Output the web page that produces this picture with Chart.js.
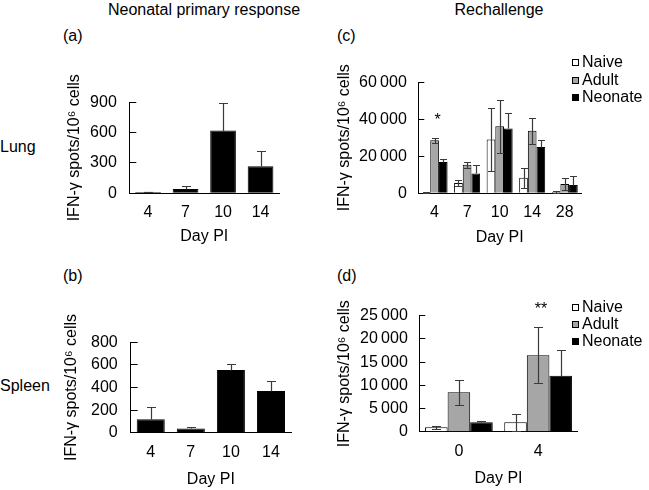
<!DOCTYPE html>
<html><head><meta charset="utf-8">
<script src="https://cdn.jsdelivr.net/npm/chart.js@4.4.1/dist/chart.umd.min.js"></script>
<style>
html,body{margin:0;padding:0;background:#fff;}
#page{position:relative;width:649px;height:490px;overflow:hidden;font-family:'Liberation Sans',Arial,Helvetica,sans-serif;font-size:16px;color:#000;}
canvas{position:absolute;}
.t{position:absolute;white-space:nowrap;line-height:16px;}
.sw{position:absolute;width:7px;height:7px;box-sizing:border-box;border:1px solid #000;}
</style></head><body>
<div id="page">
  <div class="t" style="left:204px;top:1.5px;transform:translateX(-50%);">Neonatal primary response</div>
  <div class="t" style="left:499px;top:1.5px;transform:translateX(-50%);">Rechallenge</div>
  <div class="t" style="left:63px;top:28px;">(a)</div>
  <div class="t" style="left:337px;top:28px;">(c)</div>
  <div class="t" style="left:63px;top:268px;">(b)</div>
  <div class="t" style="left:337px;top:268px;">(d)</div>
  <div class="t" style="left:0px;top:138.5px;">Lung</div>
  <div class="t" style="left:0px;top:378px;">Spleen</div>
  <canvas id="chartA" width="240" height="190" style="left:50px;top:60px;"></canvas>
  <canvas id="chartB" width="250" height="190" style="left:50px;top:300px;"></canvas>
  <canvas id="chartC" width="260" height="195" style="left:330px;top:55px;"></canvas>
  <canvas id="chartD" width="260" height="205" style="left:330px;top:285px;"></canvas>
  <div id="legendC"></div>
  <div id="legendD"></div>
</div>
<script>
// ---------- data ----------
const primaryDays = ['4', '7', '10', '14'];
const lungPrimary = [12, 43, 620, 268];
const lungPrimaryErr = [4, 33, 275, 150];
const lungPrimaryTicks = [0, 300, 600, 900];

const spleenPrimary = [118, 38, 555, 369];
const spleenPrimaryErr = [112, 15, 50, 91];
const spleenPrimaryTicks = [0, 200, 400, 600, 800];

const seriesNames = ['Naive', 'Adult', 'Neonate'];

const lungRechallengeDays = ['4', '7', '10', '14', '28'];
const lungNaive = [300, 5530, 29000, 8380, 670];
const lungNaiveErr = [200, 1850, 16900, 5360, 830];
const lungAdult = [28660, 15420, 36200, 33690, 5030];
const lungAdultErr = [1340, 1700, 14300, 6870, 3000];
const lungNeonate = [16930, 10730, 35030, 24970, 4525];
const lungNeonateErr = [1840, 4700, 8200, 3690, 4700];
const lungRechallengeTicks = [0, 20000, 40000, 60000];
const lungSignificance = ['*', '', '', '', ''];

const spleenRechallengeDays = ['0', '4'];
const spleenNaive = [934, 2010];
const spleenNaiveErr = [360, 1850];
const spleenAdult = [8477, 16450];
const spleenAdultErr = [2620, 6050];
const spleenNeonate = [2010, 12070];
const spleenNeonateErr = [360, 5600];
const spleenRechallengeTicks = [0, 5000, 10000, 15000, 20000, 25000];
const spleenSignificance = ['', '**'];

// ---------- styles ----------
const FAMILY = "'Liberation Sans', Arial, Helvetica, sans-serif";
const FONT = {family: FAMILY, size: 16, lineHeight: 1.2};
const seriesColors = ['#ffffff', '#a6a6a6', '#000000'];
const ERR_COLOR = '#3a3a3a';

function fmt(v) {
  return v >= 1000 ? String(v).replace(/\B(?=(\d{3})+(?!\d))/g, '\u2009') : String(v);
}

const errorBars = {
  id: 'errorBars',
  afterDatasetsDraw(chart, args, opts) {
    const ctx = chart.ctx, y = chart.scales.y;
    ctx.save();
    ctx.strokeStyle = ERR_COLOR;
    ctx.lineWidth = 1.2;
    chart.data.datasets.forEach((ds, i) => {
      const meta = chart.getDatasetMeta(i);
      meta.data.forEach((bar, j) => {
        const v = ds.data[j];
        const e = ds.errors ? ds.errors[j] : 0;
        const x = Math.round(bar.x) + 0.5;
        const yt = Math.round(y.getPixelForValue(v + e)) + 0.5;
        if (e) {
          const yb = ds.lowerErrors ? Math.round(y.getPixelForValue(Math.max(0, v - e))) + 0.5
                                    : Math.round(y.getPixelForValue(v)) + 0.5;
          const h = opts.cap / 2;
          ctx.beginPath();
          ctx.moveTo(x, yb); ctx.lineTo(x, yt);
          ctx.moveTo(x - h, yt); ctx.lineTo(x + h, yt);
          if (ds.lowerErrors) { ctx.moveTo(x - h, yb); ctx.lineTo(x + h, yb); }
          ctx.stroke();
        }
        if (ds.marks && ds.marks[j]) {
          ctx.fillStyle = '#000';
          ctx.font = '16px ' + FAMILY;
          ctx.textAlign = 'center';
          ctx.textBaseline = 'alphabetic';
          ctx.fillText(ds.marks[j], bar.x + 3, yt - 14);
        }
      });
    });
    ctx.restore();
  }
};

function build(id, labels, datasets, ticks, g) {
  return new Chart(document.getElementById(id), {
    type: 'bar',
    data: {labels: labels, datasets: datasets},
    options: {
      responsive: false, animation: false, devicePixelRatio: 1,
      layout: {padding: {left: g.padL, right: g.padR, top: g.padT, bottom: g.padB}},
      plugins: {legend: {display: false}, tooltip: {enabled: false}, errorBars: {cap: g.cap}},
      scales: {
        x: {
          grid: {display: false, drawTicks: false},
          border: {display: true, color: '#000', width: 1},
          ticks: {color: '#000', font: FONT, padding: g.xPad, maxRotation: 0, autoSkip: false},
          title: {display: true, text: 'Day PI', color: '#000', font: FONT, padding: 0},
          afterFit: s => { s.height = g.xH; }
        },
        y: {
          min: ticks[0], max: ticks[ticks.length - 1],
          grid: {display: true, drawOnChartArea: false, drawTicks: true, tickLength: -g.tick, color: '#000', lineWidth: 1},
          border: {display: true, color: '#000', width: 1},
          ticks: {color: '#000', font: FONT, padding: g.yPad, autoSkip: false, callback: v => fmt(v)},
          afterBuildTicks: s => { s.ticks = ticks.map(v => ({value: v})); },
          title: {display: true, text: 'IFN-\u03b3 spots/10\u2076 cells', color: '#000', font: FONT, padding: 0},
          afterFit: s => { s.width = g.yW; }
        }
      }
    },
    plugins: [errorBars]
  });
}

function single(values, errs, pct) {
  return [{data: values, errors: errs, lowerErrors: false, backgroundColor: '#000', borderColor: '#000',
           borderWidth: 1, categoryPercentage: 1, barPercentage: pct}];
}
function triple(vals, errs, marks, pct) {
  return vals.map((v, k) => ({
    label: seriesNames[k], data: v, errors: errs[k], lowerErrors: k < 2,
    marks: k === 1 ? marks : null,
    backgroundColor: seriesColors[k], borderColor: '#000', borderWidth: 1,
    categoryPercentage: pct, barPercentage: 1
  }));
}

build('chartA', primaryDays, single(lungPrimary, lungPrimaryErr, 0.685), lungPrimaryTicks,
  {padL: 15.4, yW: 63.9, padT: 42.3, padR: 10.7, xH: 53.1, padB: 3.6, tick: 7, yPad: 19.5, xPad: 10, cap: 9});
build('chartB', primaryDays, single(spleenPrimary, spleenPrimaryErr, 0.7), spleenPrimaryTicks,
  {padL: 12.4, yW: 68.3, padT: 42.3, padR: 9, xH: 56.6, padB: 0.7, tick: 7, yPad: 20, xPad: 10, cap: 9});
build('chartC', lungRechallengeDays,
  triple([lungNaive, lungAdult, lungNeonate], [lungNaiveErr, lungAdultErr, lungNeonateErr], lungSignificance, 0.8),
  lungRechallengeTicks,
  {padL: 5.4, yW: 82.9, padT: 19, padR: 9, xH: 53.6, padB: 3.1, tick: 6, yPad: 17.5, xPad: 10, cap: 7});
build('chartD', spleenRechallengeDays,
  triple([spleenNaive, spleenAdult, spleenNeonate], [spleenNaiveErr, spleenAdultErr, spleenNeonateErr], spleenSignificance, 0.855),
  spleenRechallengeTicks,
  {padL: 5.4, yW: 83.9, padT: 30.7, padR: 12.3, xH: 56.9, padB: 1.4, tick: 6, yPad: 17.5, xPad: 10, cap: 9});

// ---------- legends (HTML, built from series arrays) ----------
function legend(id, baselines) {
  const host = document.getElementById(id);
  seriesNames.forEach((name, k) => {
    const sw = document.createElement('div');
    sw.className = 'sw';
    sw.style.left = '572px';
    sw.style.top = (baselines[k] - 8.2) + 'px';
    sw.style.background = seriesColors[k];
    host.appendChild(sw);
    const t = document.createElement('div');
    t.className = 't';
    t.style.left = '582px';
    t.style.top = (baselines[k] - 13.5) + 'px';
    t.textContent = name;
    host.appendChild(t);
  });
}
legend('legendC', [67.5, 85, 102.5]);
legend('legendD', [312.5, 329.5, 346.5]);
</script>
</body></html>
